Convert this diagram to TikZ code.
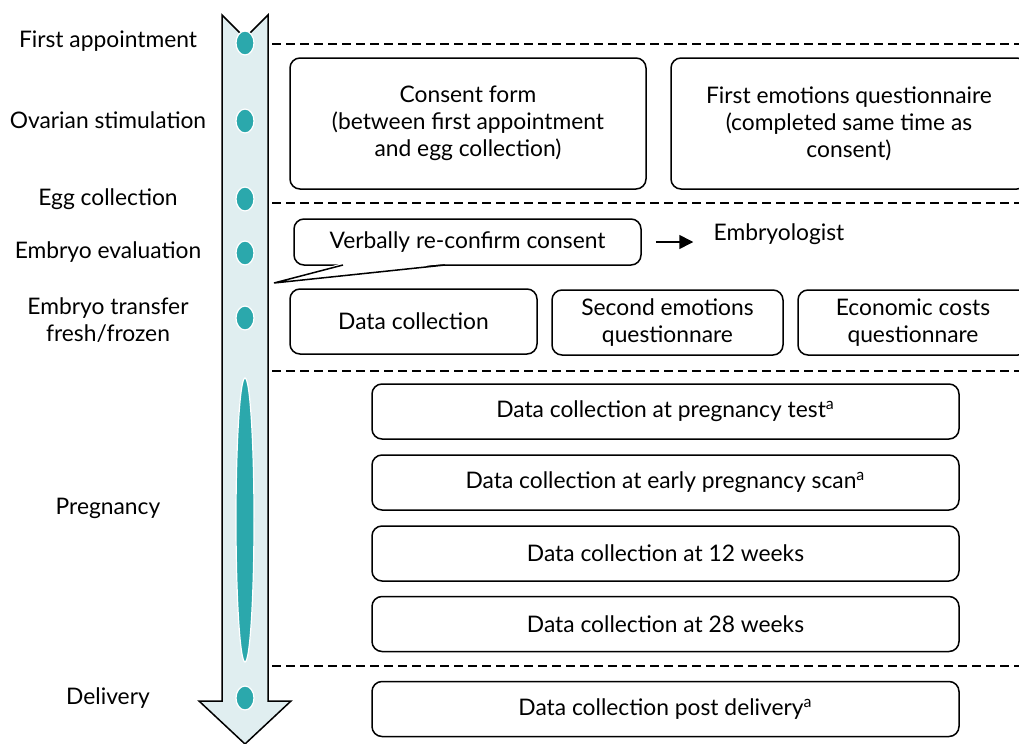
\documentclass[tikz,border=0pt]{standalone}
\usepackage{fontspec}
\setmainfont{Lato}
\usetikzlibrary{shapes.geometric,arrows.meta}
\definecolor{arrowfill}{HTML}{E0EEF0}
\definecolor{dotteal}{HTML}{2BA8AC}
\begin{document}
\begin{tikzpicture}[x=0.5pt,y=-0.5pt,
    font=\fontsize{11.4}{13.5}\selectfont,
    box/.style={draw, rounded corners=5pt, line width=0.75pt, align=center, inner sep=0pt, fill=white},
    stage/.style={align=center, inner sep=0pt},
    dot/.style={ellipse, draw=white, line width=0.6pt, fill=dotteal, minimum width=9pt, minimum height=12pt, inner sep=0pt},
    sep/.style={dashed, dash pattern=on 4.5pt off 2.5pt, line width=0.6pt}]
    \useasboundingbox (0,0) rectangle (1019,744);
    \clip (0,0) rectangle (1019,744);
    % timeline arrow
    \draw[fill=arrowfill, line width=0.75pt] (222,15) -- (245,38) -- (268,15) -- (268,701) -- (291,701)
        -- (245,744) -- (199,701) -- (222,701) -- cycle;
    % stages
    \node[stage] (first) at (108,41) {First appointment};
    \node[stage] (ovarian) at (108,120) {Ovarian stimulation};
    \node[stage] (egg) at (108,199) {Egg collection};
    \node[stage] (evaluation) at (108,252) {Embryo evaluation};
    \node[stage] (transfer) at (108,320) {Embryo transfer\\fresh/frozen};
    \node[stage] (pregnancy) at (108,508) {Pregnancy};
    \node[stage] (delivery) at (108,698) {Delivery};
    \node[dot] (d1) at (245,43) {};
    \node[dot] (d2) at (245,121) {};
    \node[dot] (d3) at (245,199) {};
    \node[dot] (d4) at (245,253) {};
    \node[dot] (d5) at (245,318) {};
    \node[dot, minimum height=142pt] (d6) at (245,520) {};
    \node[dot] (d7) at (245,698) {};
    % separators
    \foreach \y in {44,203,371,666}
        \draw[sep] (272,\y) -- (1019,\y);
    % boxes
    \node[box, minimum width=178pt, minimum height=65.5pt] (consent) at (468,123.5)
        {Consent form\\(between first appointment\\and egg collection)};
    \node[box, minimum width=178pt, minimum height=65.5pt] (emotionsA) at (849,123.5)
        {First emotions questionnaire\\(completed same time as\\consent)};
    \node[box, minimum width=173.5pt, minimum height=23pt] (verbal) at (467.5,242) {Verbally re-confirm consent};
    \fill[white] (341,263.5) -- (274,283) -- (447,263.5) -- cycle;
    \draw[line width=0.75pt] (343,265) -- (274,283) -- (445,265);
    \node[stage] (embryologist) at (779,234) {Embryologist};
    \draw[-{Triangle[length=7pt,width=7pt]}, line width=0.75pt, shorten <=7pt, shorten >=10pt]
        (verbal.east) -- (verbal.east -| embryologist.west);
    \node[box, minimum width=123.5pt, minimum height=32.5pt] (datacol) at (413.5,321.5) {Data collection};
    \node[box, minimum width=115.5pt, minimum height=32.5pt] (emotionsB) at (667.5,322.5) {Second emotions\\questionnare};
    \node[box, minimum width=115pt, minimum height=32.5pt] (costs) at (913,322.5) {Economic costs\\questionnare};
    \node[box, minimum width=293.5pt, minimum height=27.5pt] (test) at (665.5,411.5) {Data collection at pregnancy test\textsuperscript{a}};
    \node[box, minimum width=293.5pt, minimum height=27.5pt] (scan) at (665.5,482.5) {Data collection at early pregnancy scan\textsuperscript{a}};
    \node[box, minimum width=293.5pt, minimum height=27.5pt] (week12) at (665.5,553.5) {Data collection at 12 weeks};
    \node[box, minimum width=293.5pt, minimum height=27.5pt] (week28) at (665.5,624) {Data collection at 28 weeks};
    \node[box, minimum width=293.5pt, minimum height=27.5pt] (post) at (665.5,709) {Data collection post delivery\textsuperscript{a}};
\end{tikzpicture}
\end{document}
